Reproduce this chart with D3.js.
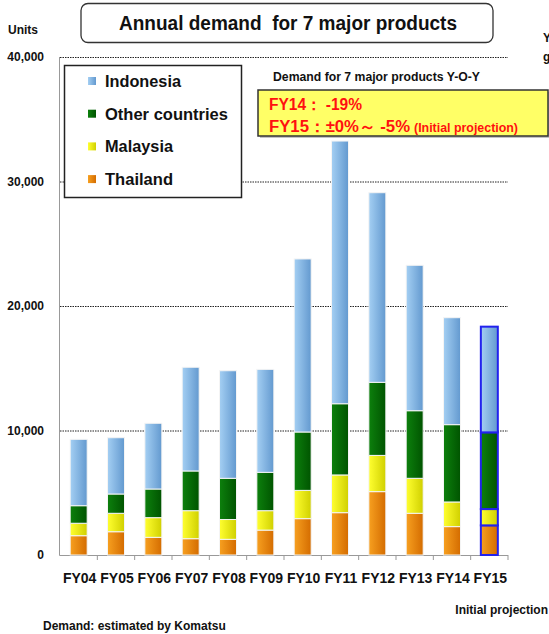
<!DOCTYPE html>
<html><head><meta charset="utf-8">
<script src="https://cdn.jsdelivr.net/npm/d3@7"></script>
<style>
html,body{margin:0;padding:0;background:#fff;}
svg{display:block;font-family:Arial,"Liberation Sans",sans-serif;}
</style></head>
<body>
<svg id="chart" width="549" height="634"></svg>
<script>
// ---- data ----
const years = ["FY04","FY05","FY06","FY07","FY08","FY09","FY10","FY11","FY12","FY13","FY14","FY15"];
const thailand  = [1550,1870,1420,1310,1260,2000,2920,3400,5090,3350,2280,2380];
const malaysia  = [1000,1480,1580,2250,1590,1560,2270,3030,2910,2810,1980,1310];
const others    = [1410,1550,2300,3190,3310,3080,4690,5720,5870,5430,6210,6160];
const indonesia = [5330,4520,5280,8330,8640,8270,13900,21100,15230,11680,8590,8490];
const seriesNames = ["Thailand","Malaysia","Other countries","Indonesia"];
const yTicks = [0,10000,20000,30000,40000];
const projectedYear = "FY15";

const svg = d3.select("#chart");

const colors = {
  "Indonesia": ["#a4cff3","#6399cf"],
  "Other countries": ["#0d800d","#005400"],
  "Malaysia": ["#ffff30","#d0d000"],
  "Thailand": ["#f7a020","#d46c00"]
};
const defs = svg.append("defs");
Object.entries(colors).forEach(([k,c],i)=>{
  const g = defs.append("linearGradient").attr("id","g"+i).attr("x1","0").attr("x2","1").attr("y1","0").attr("y2","0");
  g.append("stop").attr("offset","0").attr("stop-color",c[0]);
  g.append("stop").attr("offset","1").attr("stop-color",c[1]);
  colors[k].grad = "url(#g"+i+")";
});

const x = d3.scaleBand().domain(years).range([60,508]).paddingInner(0.545).paddingOuter(0.2725);
const y = d3.scaleLinear().domain([0,40000]).range([555,57]);

// gridlines
svg.append("g").selectAll("line").data(yTicks.filter(d=>d>0)).join("line")
  .attr("x1",60).attr("x2",508).attr("y1",d=>y(d)+0.5).attr("y2",d=>y(d)+0.5)
  .attr("stroke","#222").attr("stroke-width",1).attr("stroke-dasharray","1.5,1");

// y labels
svg.append("g").selectAll("text").data(yTicks).join("text")
  .attr("x",44).attr("y",d=>y(d)).attr("dy","0.36em").attr("text-anchor","end")
  .attr("font-size",12).attr("font-weight","bold").attr("fill","#111")
  .text(d3.format(","));

// axes lines
svg.append("line").attr("x1",59.5).attr("x2",59.5).attr("y1",y(40000)).attr("y2",y(0)+0.5).attr("stroke","#999").attr("stroke-width",1);
svg.append("line").attr("x1",59.5).attr("x2",508).attr("y1",y(0)+0.5).attr("y2",y(0)+0.5).attr("stroke","#999").attr("stroke-width",1);
const step = x.step();
svg.append("g").selectAll("line").data(d3.range(1,13)).join("line")
  .attr("x1",d=>60+d*step).attr("x2",d=>60+d*step).attr("y1",y(0)).attr("y2",y(0)+5)
  .attr("stroke","#999");

// stacked bars
const rows = years.map((yr,i)=>({year:yr,"Thailand":thailand[i],"Malaysia":malaysia[i],"Other countries":others[i],"Indonesia":indonesia[i]}));
const stack = d3.stack().keys(seriesNames)(rows);
stack.forEach(layer=>{
  svg.append("g").selectAll("rect").data(layer).join("rect")
    .attr("x",d=>x(d.data.year)).attr("width",x.bandwidth())
    .attr("y",d=>y(d[1])).attr("height",d=>y(d[0])-y(d[1]))
    .attr("fill",colors[layer.key].grad)
    .attr("stroke",d=>d.data.year===projectedYear?"#2222ee":"#f4f4f4")
    .attr("stroke-width",d=>d.data.year===projectedYear?2:1);
});

// x labels
svg.append("g").selectAll("text").data(years).join("text")
  .attr("x",d=>x(d)+x.bandwidth()/2+1).attr("y",583).attr("text-anchor","middle")
  .attr("font-size",14).attr("font-weight","bold").attr("fill","#111").text(d=>d);

// title
svg.append("rect").attr("x",81).attr("y",3.5).attr("width",412).attr("height",39).attr("rx",7)
  .attr("fill","#fff").attr("stroke","#333").attr("stroke-width",1.3);
svg.append("text").attr("x",119).attr("y",30).attr("font-size",20).attr("font-weight","bold")
  .attr("textLength",338).attr("lengthAdjust","spacingAndGlyphs").attr("fill","#111")
  .style("white-space","pre").text("Annual demand  for 7 major products");

svg.append("text").attr("x",8).attr("y",34).attr("font-size",12).attr("font-weight","bold").attr("fill","#111").text("Units");

// legend
svg.append("rect").attr("x",64.5).attr("y",65.5).attr("width",177).attr("height",132)
  .attr("fill","#fff").attr("stroke","#222").attr("stroke-width",1.5);
const legendItems = ["Indonesia","Other countries","Malaysia","Thailand"];
const legendLen = [76,123,68,68];
const lg = svg.append("g").selectAll("g").data(legendItems).join("g")
  .attr("transform",(d,i)=>`translate(0,${81+i*32.7})`);
lg.append("rect").attr("x",88).attr("y",-4).attr("width",8).attr("height",8).attr("fill",d=>colors[d].grad);
lg.append("text").attr("x",105).attr("y",6).attr("font-size",17).attr("font-weight","bold").attr("fill","#111")
  .attr("textLength",(d,i)=>legendLen[i]).attr("lengthAdjust","spacingAndGlyphs")
  .text(d=>d);

// YoY annotation
svg.append("text").attr("x",273).attr("y",81).attr("font-size",12).attr("font-weight","bold")
  .attr("textLength",207).attr("lengthAdjust","spacingAndGlyphs").attr("fill","#111")
  .text("Demand for 7 major products Y-O-Y");
svg.append("rect").attr("x",260).attr("y",92).attr("width",290).attr("height",46).attr("fill","#555").attr("opacity",0.35);
svg.append("rect").attr("x",258).attr("y",90).attr("width",290).attr("height",46)
  .attr("fill","#ffff66").attr("stroke","#333").attr("stroke-width",1.5);
svg.append("text").attr("x",269).attr("y",110).attr("font-size",16).attr("font-weight","bold").attr("fill","#ff1010")
  .attr("textLength",93).attr("lengthAdjust","spacingAndGlyphs")
  .style("white-space","pre").text("FY14： -19%");
svg.append("text").attr("x",269).attr("y",132).attr("font-size",16).attr("font-weight","bold").attr("fill","#ff1010")
  .attr("textLength",141).attr("lengthAdjust","spacingAndGlyphs")
  .style("white-space","pre").text("FY15：±0%～ -5%");
svg.append("text").attr("x",414).attr("y",132).attr("font-size",12).attr("font-weight","bold").attr("fill","#ff1010")
  .attr("textLength",104).attr("lengthAdjust","spacingAndGlyphs")
  .text("(Initial projection)");

// right edge clipped text
svg.append("text").attr("x",543).attr("y",42).attr("font-size",12).attr("font-weight","bold").attr("fill","#111").text("Y");
svg.append("text").attr("x",543).attr("y",61).attr("font-size",12).attr("font-weight","bold").attr("fill","#111").text("g");

// footer
svg.append("text").attr("x",548).attr("y",614).attr("text-anchor","end").attr("font-size",12).attr("font-weight","bold").attr("fill","#111").text("Initial projection");
svg.append("text").attr("x",43).attr("y",630).attr("font-size",12).attr("font-weight","bold").attr("fill","#111").text("Demand: estimated by Komatsu");
</script>
</body></html>
